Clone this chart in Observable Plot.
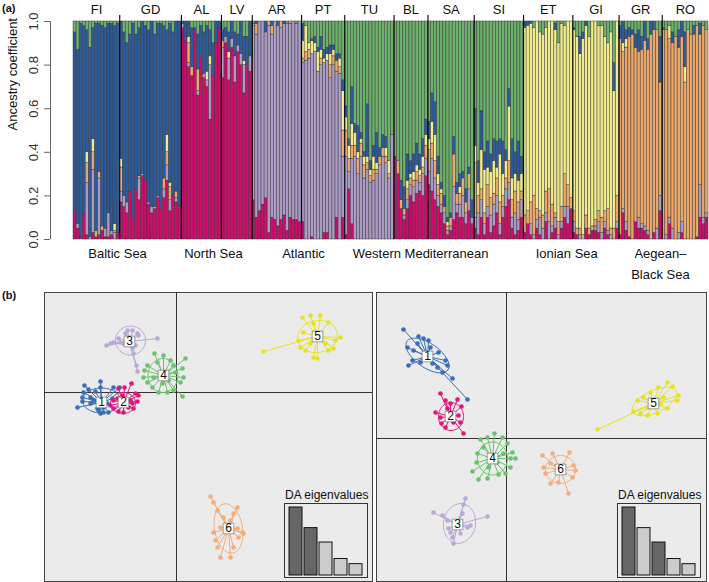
<!DOCTYPE html>
<html><head><meta charset="utf-8">
<script src="https://cdn.jsdelivr.net/npm/d3@7"></script>
<script src="https://cdn.jsdelivr.net/npm/@observablehq/plot@0.6"></script>
<style>
body{margin:0;background:#fff;font-family:"Liberation Sans",Arial,sans-serif;}
#wrap{position:relative;width:709px;height:582px;overflow:hidden;background:#fff;}
.abs{position:absolute;}
.tag{position:absolute;font-weight:bold;font-size:11px;color:#111;}
.inbox{position:absolute;border:1px solid #333;background:#EBEBEB;box-sizing:border-box;}
.intitle{position:absolute;font-size:12px;color:#111;white-space:nowrap;}
</style></head><body><div id="wrap"></div>
<script>
// ---------------- Panel (a) data: ancestry proportions per individual (pink, purple, orange, yellow, blue, green) in %
const popNames = ["FI","GD","AL","LV","AR","PT","TU","BL","SA","SI","ET","GI","GR","RO"];
const FI = ["13 0 0 0 82 5","5 2 0 0 80 13","1 0 0 0 98 1","12 0 0 0 86 2","2 24 9 5 56 4","0 1 0 0 87 12","3 29 8 6 51 3","1 0 3 0 95 1","2 26 3 0 68 1","4 0 2 0 92 2","1 4 0 0 92 3","1 11 0 0 87 1","2 2 0 0 95 1","0 3 1 3 91 2","3 0 0 0 96 1"];
const GD = ["17 5 11 4 63 0","15 5 0 0 75 5","12 5 0 0 73 10","22 0 0 0 72 6","9 0 0 0 90 1","23 0 0 0 71 6","18 10 1 0 68 3","29 1 0 0 70 0","27 0 0 0 71 2","16 1 0 0 79 4","12 3 0 0 85 0","14 0 1 0 79 6","19 1 0 0 79 1","14 0 0 0 85 1","19 4 5 0 70 2","27 7 6 8 48 4","13 5 6 2 73 1","20 0 0 0 75 5","17 2 3 0 78 0","15 0 0 0 85 0"];
const AL = ["97 2 0 0 1 0","91 0 0 0 9 0","79 2 9 3 7 0","75 0 4 0 18 3","96 0 0 0 1 3","66 2 10 0 16 6","84 0 0 0 14 2","74 2 0 0 19 5","70 3 0 4 21 2","55 25 0 4 12 4","75 0 0 0 15 10","90 0 0 0 10 0","97 0 0 0 3 0"];
const LV = ["74 14 3 0 5 4","90 3 0 0 4 3","73 10 0 3 9 5","88 4 0 0 8 0","72 12 0 0 11 5","86 3 0 0 5 6","80 5 0 0 15 0","67 13 0 2 11 7","80 0 0 0 13 7","77 7 0 0 16 0"];
const AR = ["18 80 1 0 0 1","10 84 5 0 1 0","13 87 0 0 0 0","16 84 0 0 0 0","19 76 0 0 5 0","3 95 2 0 0 0","10 84 4 0 2 0","9 91 0 0 0 0","6 92 0 0 2 0","9 88 3 0 0 0","11 88 0 0 1 0","4 95 0 0 0 1","10 89 1 0 0 0","9 91 0 0 0 0","9 90 0 0 0 1","8 92 0 0 0 0"];
const PT = ["8 73 2 8 8 1","0 82 4 12 0 2","0 83 4 3 0 10","1 84 0 6 1 8","0 86 0 4 3 7","0 77 0 9 2 12","0 80 3 4 6 7","3 78 0 2 4 13","3 79 0 3 3 12","0 74 6 5 4 11","0 80 4 3 2 11","10 67 5 0 3 15","0 76 3 4 2 15","10 28 12 18 5 27"];
const TU = ["2 36 12 6 5 39","23 8 6 6 3 54","7 30 6 10 17 30","0 38 5 6 4 47","0 30 7 3 12 48","0 38 6 2 3 51","0 28 6 4 2 60","0 32 3 3 24 38","0 26 3 3 4 64","0 27 5 6 5 57","0 30 2 3 14 51","0 34 4 0 4 58","0 38 4 0 6 52","0 35 3 4 5 53","0 28 2 6 0 64","0 48 0 0 0 52"];
const BL = ["38 0 0 0 0 62","30 0 6 0 0 64","14 0 4 0 9 73","9 2 3 0 10 76","14 4 5 4 12 61","20 5 3 2 6 64","17 7 3 4 8 61","21 6 4 3 10 56","22 4 3 3 7 61","20 10 3 5 8 54","29 8 6 5 7 45"];
const SA = ["25 6 10 5 8 46","22 15 7 10 13 33","18 10 8 12 15 37","15 5 5 5 8 62","12 4 5 2 3 74","7 5 3 0 5 80","2 2 2 2 2 90","4 2 4 0 2 88","9 15 15 0 8 53","12 4 5 0 5 74","10 6 5 3 6 70","10 10 8 0 3 69","7 5 5 0 6 77","13 10 7 0 3 67","7 3 0 0 8 82"];
const SI = ["5 5 25 8 17 40","2 10 8 6 10 64","10 8 5 18 18 41","2 5 5 20 8 60","10 5 10 8 12 55","3 8 8 12 8 61","6 10 5 15 10 54","12 8 8 5 12 55","2 5 10 22 7 54","10 5 5 10 15 55","15 8 5 8 5 59","18 8 10 25 8 31","5 5 8 10 18 54","2 10 10 8 10 60","4 5 8 10 18 55","10 8 4 8 8 62"];
const ET = ["3 0 8 86 3 0","7 0 6 85 2 0","2 5 10 82 1 0","0 2 18 77 0 3","5 4 5 86 0 0","2 8 3 82 0 5","0 5 6 83 0 6","8 4 10 75 0 3","0 8 15 77 0 0","3 3 10 84 0 0","5 5 2 84 3 1","0 2 6 82 0 10","5 3 7 84 0 1","10 5 15 68 0 2","7 8 10 75 0 0","14 0 5 81 0 0"];
const GI = ["3 5 5 83 1 3","2 0 3 88 0 7","0 2 3 80 8 7","0 0 2 90 3 5","5 0 6 87 2 0","2 0 3 88 0 7","4 0 2 94 0 0","4 2 3 91 0 0","3 5 5 85 0 2","0 3 7 88 0 2","5 3 5 80 0 7","2 2 10 76 0 10","0 2 3 90 0 5","0 0 5 63 13 19","5 3 12 80 0 0"];
const GR = ["2 0 90 0 6 2","12 2 72 4 10 0","4 4 80 4 4 4","1 0 92 0 4 3","0 0 94 0 2 4","8 0 80 0 6 6","5 5 76 0 10 4","5 2 80 0 6 7","4 2 85 0 9 0","2 2 83 0 5 8","0 0 94 0 6 0","3 0 93 0 4 0","0 5 91 0 0 4","13 7 52 0 21 7"];
const RO = ["0 0 96 0 1 3","0 2 94 0 0 4","7 3 82 6 0 2","0 5 85 0 5 5","0 0 93 0 0 7","0 3 85 0 8 4","3 5 85 0 7 0","0 0 72 7 16 5","0 0 96 0 0 4","0 0 94 0 0 6","0 0 94 0 4 2","1 0 97 0 0 2","10 15 69 0 5 1","7 3 88 0 0 2","10 2 84 0 0 4"];
const clusterKeys = ["K1","K2","K3","K4","K5","K6"];
const colorsA = ["#CD0C6C","#A99BC4","#E9A76B","#EFEA8E","#2D5A98","#6CB16B"];
const regionNames = ["Baltic Sea","North Sea","Atlantic","Western Mediterranean","Ionian Sea","Aegean–","Black Sea"];
const regionPos = [14.3, 45.4, 74.6, 112.6, 160, 190.4, 190.4];
const regionRow = [0, 0, 0, 0, 0, 0, 1];
const yTicks = [0, 0.2, 0.4, 0.6, 0.8, 1.0];

// ---------------- Panel (b) data: DA scores (left: DA1 x DA2, right: DA1 x DA3)
const clusterLabels = ["1","2","3","4","5","6"];
const colorsB = ["#3A6DB5","#E2157C","#B9A9D6","#6CC26C","#E6E31C","#F5AD77"];
const L1 = [[-9.2,0.7],[-8.8,0.3],[-7.6,1.1],[-7.6,0.5],[-8.1,0.1],[-9.4,-0.5],[-9.9,-1.5],[-9.4,-0.9],[-8.6,-0.5],[-8.6,-1.1],[-7.9,-1.6],[-7.6,-2.1],[-7.8,-1.8],[-7.3,-1.5],[-6.8,-2.0],[-6.9,-1.1],[-6.4,-0.6],[-6.3,0.5],[-5.7,0.5],[-9.3,0.0],[-8.3,-0.8],[-7.3,-2.0]];
const L2 = [[-4.5,0.9],[-5.2,0.5],[-5.8,0.4],[-4.1,-0.1],[-3.8,-0.3],[-3.9,-0.9],[-4.3,-1.6],[-4.8,-1.5],[-5.8,-1.9],[-6.3,-1.6],[-6.6,-1.3],[-5.9,-0.6],[-4.6,-0.8],[-5.3,-2.0],[-4.4,-1.1],[-6.3,-0.8],[-5.4,-0.3]];
const L3 = [[-7.0,4.7],[-6.6,4.9],[-6.3,5.0],[-5.8,5.4],[-5.6,5.0],[-5.1,5.9],[-4.9,6.2],[-4.4,6.2],[-3.9,5.9],[-3.8,5.7],[-1.9,5.4],[-4.1,4.7],[-4.4,4.4],[-4.3,3.9],[-4.0,2.7],[-3.9,2.1],[-5.3,4.9],[-4.8,5.0]];
const L4 = [[-2.2,3.9],[-1.3,3.7],[-0.6,3.2],[0.9,3.4],[0.6,2.4],[0.7,1.5],[0.4,1.0],[0.6,-0.4],[-0.3,0.2],[-0.9,0.0],[-1.8,0.0],[-2.4,0.5],[-2.9,1.0],[-3.3,1.5],[-3.2,2.2],[-2.9,2.7],[-1.9,3.0],[-0.1,2.0],[-0.8,1.2],[-2.3,1.5],[-0.3,2.7],[-1.4,0.9]];
const L5 = [[8.7,4.1],[12.6,7.5],[13.4,7.7],[14.4,7.7],[15.2,7.0],[16.4,5.5],[15.9,5.2],[15.7,4.4],[15.2,4.2],[14.1,3.4],[13.7,3.5],[12.9,4.2],[12.4,4.5],[12.2,5.2],[12.7,6.0],[14.9,4.9],[14.4,5.7],[13.4,4.9],[13.7,6.9]];
const L6 = [[3.4,-10.4],[3.7,-11.0],[4.1,-11.8],[6.1,-11.5],[5.7,-12.1],[6.6,-14.0],[6.7,-14.1],[6.2,-14.5],[5.7,-15.5],[5.4,-16.5],[4.4,-16.5],[4.1,-15.5],[3.9,-14.8],[3.7,-14.0],[4.4,-13.5],[5.4,-12.8],[4.7,-12.5],[6.1,-13.6]];
const leftCentroids = [[-7.5,-1.0],[-5.3,-1.0],[-4.7,5.1],[-1.3,1.7],[14.1,5.6],[5.2,-13.6]];
const leftEllipses = [[-7.5,-0.8,1.9,1.25,0],[-5.35,-1.05,1.25,1.05,0],[-4.6,5.2,1.5,1.45,0],[-1.35,1.7,1.7,1.5,90],[14.1,5.6,2.0,1.6,10],[5.2,-13.6,2.5,1.4,100]];
const R1 = [[-10.3,10.9],[-8.8,10.2],[-8.3,10.0],[-7.8,9.8],[-9.9,9.1],[-9.3,8.8],[-9.4,7.8],[-9.8,7.3],[-8.6,7.6],[-7.4,7.5],[-6.9,7.1],[-6.1,7.8],[-5.9,7.3],[-6.4,6.6],[-5.4,6.0],[-3.9,3.9],[-6.8,8.6],[-7.6,9.1],[-8.9,9.5]];
const R2 = [[-6.6,4.5],[-6.1,3.8],[-4.9,3.9],[-4.5,3.2],[-7.1,2.6],[-6.6,2.1],[-6.5,1.5],[-6.1,1.1],[-5.3,1.6],[-4.6,1.6],[-4.3,0.5],[-4.8,2.3],[-5.9,3.0],[-5.6,3.5]];
const R3 = [[-4.1,-6.0],[-4.3,-6.6],[-7.3,-7.4],[-6.4,-7.7],[-1.9,-7.8],[-5.9,-8.2],[-5.8,-9.0],[-5.4,-9.9],[-5.3,-10.5],[-4.6,-9.5],[-3.9,-8.9],[-4.4,-7.5],[-3.6,-8.7],[-5.6,-9.4]];
const R4 = [[-2.6,-0.1],[-1.9,0.1],[-1.2,0.5],[-0.4,0.1],[0.1,-0.5],[0.6,-1.4],[0.9,-2.0],[0.4,-2.9],[-0.1,-3.5],[-0.8,-3.6],[-1.9,-4.0],[-2.8,-4.1],[-3.4,-3.3],[-3.0,-2.4],[-2.9,-1.5],[-2.3,-0.9],[-0.3,-1.5],[-0.9,-2.4],[-1.8,-2.9],[0.4,-2.0]];
const R5 = [[9.1,0.9],[13.1,3.8],[12.7,2.7],[13.4,2.5],[14.1,2.3],[15.1,2.5],[16.1,3.0],[17.1,3.8],[17.2,4.3],[16.6,5.2],[16.1,5.6],[15.2,5.1],[14.4,4.6],[13.7,4.1],[15.4,3.5],[15.7,4.1],[14.1,3.1]];
const R6 = [[3.6,-1.7],[4.6,-1.5],[6.3,-1.4],[6.7,-2.7],[6.9,-3.2],[6.6,-3.9],[6.2,-5.5],[5.2,-4.4],[4.4,-4.5],[3.9,-3.5],[3.7,-2.9],[4.4,-2.5],[5.7,-2.7]];
const rightCentroids = [[-7.9,8.2],[-5.6,2.2],[-4.9,-8.6],[-1.4,-2.0],[14.7,3.5],[5.4,-3.1]];
const rightEllipses = [[-7.9,8.3,2.5,1.2,-35],[-5.55,2.2,1.4,1.25,90],[-4.7,-8.5,2.0,1.6,80],[-1.4,-2.0,1.65,1.5,90],[14.8,3.7,2.4,1.1,25],[5.4,-3.1,1.5,1.4,0]];
const eigenValues = [66, 46, 32, 16, 11];
const leftRetained = [true, true, false, false, false];
const rightRetained = [true, false, true, false, false];

// ---------------- build panel (a)
const wrap = document.getElementById("wrap");
const FONT = "Liberation Sans, Arial, Helvetica, sans-serif";
const popBars = [FI, GD, AL, LV, AR, PT, TU, BL, SA, SI, ET, GI, GR, RO];
const rects = [], bounds = [], popCenters = [];
let idx = 0;
popBars.forEach((bars, p) => {
  const start = idx;
  bars.forEach(s => {
    const v = s.split(" ").map(Number);
    const tot = d3.sum(v);
    let acc = 0;
    v.forEach((val, k) => {
      if (val > 0) rects.push({x1: idx, x2: idx + 1, y1: acc / tot, y2: (acc + val) / tot, k: clusterKeys[k]});
      acc += val;
    });
    idx++;
  });
  popCenters.push({name: popNames[p], x: (start + idx) / 2});
  if (p > 0) bounds.push(start);
});
const N = idx;
const regions = regionNames.map((t, i) => ({t, x: regionPos[i], row: regionRow[i]}));

const plotA = Plot.plot({
  width: 709, height: 280, marginLeft: 73, marginRight: 1, marginTop: 21, marginBottom: 41,
  x: {domain: [0, N], axis: null},
  y: {domain: [0, 1], axis: null},
  color: {domain: clusterKeys, range: colorsA},
  style: {fontFamily: FONT, fontSize: "13px", overflow: "visible", background: "transparent"},
  marks: [
    Plot.rect(rects, {x1: "x1", x2: "x2", y1: "y1", y2: "y2", fill: "k", stroke: "#333", strokeWidth: 0.45}),
    Plot.ruleX(bounds, {y1: 0, y2: 1.028, stroke: "#000", strokeWidth: 1.1}),
    Plot.text(popCenters, {x: "x", y: 1, text: "name", dy: -12, fontSize: 13, fill: "#111"}),
    Plot.text(regions.filter(d => d.row === 0), {x: "x", y: 0, text: "t", dy: 14, fontSize: 13, fill: "#111"}),
    Plot.text(regions.filter(d => d.row === 1), {x: "x", y: 0, text: "t", dy: 35, fontSize: 13, fill: "#111"}),
    Plot.axisY(yTicks, {anchor: "left", tickFormat: d => d.toFixed(1), tickRotate: -90, dx: -23, tickSize: 6, tickPadding: 7, fontSize: 13, stroke: "#666", fill: "#333"}),
    Plot.ruleX([0], {y1: 0, y2: 1, dx: -23, stroke: "#666"}),
    Plot.text(["Ancestry coefficient"], {frameAnchor: "left", rotate: -90, dx: -61, fontSize: 13, fill: "#111"})
  ]
});
plotA.style.position = "absolute"; plotA.style.left = "0px"; plotA.style.top = "0px";
wrap.appendChild(plotA);

// ---------------- build panel (b)
function ellipsePts(params) {
  const out = [];
  params.forEach((e, c) => {
    const [cx, cy, a, b, ang] = e;
    const th = ang * Math.PI / 180;
    for (let i = 0; i <= 72; i++) {
      const t = i / 72 * 2 * Math.PI;
      out.push({c: clusterLabels[c], x: cx + a * Math.cos(t) * Math.cos(th) - b * Math.sin(t) * Math.sin(th), y: cy + a * Math.cos(t) * Math.sin(th) + b * Math.sin(t) * Math.cos(th)});
    }
  });
  return out;
}
function dapcPanel(groups, centroids, ellipses, xdom, ydom, w, h, left, top) {
  const pts = [];
  groups.forEach((g, c) => g.forEach(([x, y]) => pts.push({c: clusterLabels[c], x, y, cx: centroids[c][0], cy: centroids[c][1]})));
  const cents = centroids.map(([x, y], c) => ({c: clusterLabels[c], x, y}));
  const p = Plot.plot({
    width: w, height: h, margin: 0,
    x: {domain: xdom, axis: null},
    y: {domain: ydom, axis: null},
    color: {domain: clusterLabels, range: colorsB},
    style: {fontFamily: FONT, background: "transparent", overflow: "visible"},
    marks: [
      Plot.frame({fill: "#EBEBEB", stroke: "#444", strokeWidth: 1}),
      Plot.ruleX([0], {stroke: "#333", strokeWidth: 1}),
      Plot.ruleY([0], {stroke: "#333", strokeWidth: 1}),
      Plot.link(pts, {x1: "x", y1: "y", x2: "cx", y2: "cy", stroke: "c", strokeWidth: 1}),
      Plot.line(ellipsePts(ellipses), {x: "x", y: "y", z: "c", stroke: "c", strokeWidth: 1, curve: "linear"}),
      Plot.dot(pts, {x: "x", y: "y", fill: "c", r: 2.3}),
      Plot.dot(cents, {x: "x", y: "y", symbol: "square", r: 6, fill: "white", stroke: "#444", strokeWidth: 0.5}),
      Plot.text(cents, {x: "x", y: "y", text: "c", fontSize: 12, fill: "#111"})
    ]
  });
  p.style.position = "absolute"; p.style.left = left + "px"; p.style.top = top + "px";
  wrap.appendChild(p);
}
dapcPanel([L1, L2, L3, L4, L5, L6], leftCentroids, leftEllipses, [-13.2, 19.6], [-18.9, 10.0], 328, 289, 44, 292);
dapcPanel([R1, R2, R3, R4, R5, R6], rightCentroids, rightEllipses, [-13.0, 20.0], [-14.3, 14.6], 330, 289, 376, 292);

function inset(retained, left, top) {
  const box = document.createElement("div");
  box.className = "inbox";
  box.style.left = left + "px"; box.style.top = top + "px";
  box.style.width = "84px"; box.style.height = "75px";
  const data = eigenValues.map((v, i) => ({i, v, f: retained[i] ? "#666666" : "#CCCCCC"}));
  const p = Plot.plot({
    width: 82, height: 73, marginTop: 3, marginBottom: 2, marginLeft: 2, marginRight: 2,
    x: {domain: d3.range(eigenValues.length), axis: null, padding: 0.12},
    y: {domain: [0, d3.max(eigenValues)], axis: null},
    style: {background: "transparent"},
    marks: [Plot.barY(data, {x: "i", y: "v", fill: "f", stroke: "#111", strokeWidth: 1})]
  });
  box.appendChild(p);
  wrap.appendChild(box);
  const t = document.createElement("div");
  t.className = "intitle"; t.textContent = "DA eigenvalues";
  t.style.left = (left + 1) + "px"; t.style.top = (top - 15) + "px";
  wrap.appendChild(t);
}
inset(leftRetained, 284, 503);
inset(rightRetained, 617, 503);

const ta = document.createElement("div"); ta.className = "tag"; ta.textContent = "(a)"; ta.style.left = "2px"; ta.style.top = "2px"; wrap.appendChild(ta);
const tb = document.createElement("div"); tb.className = "tag"; tb.textContent = "(b)"; tb.style.left = "2px"; tb.style.top = "289px"; wrap.appendChild(tb);
</script></body></html>
